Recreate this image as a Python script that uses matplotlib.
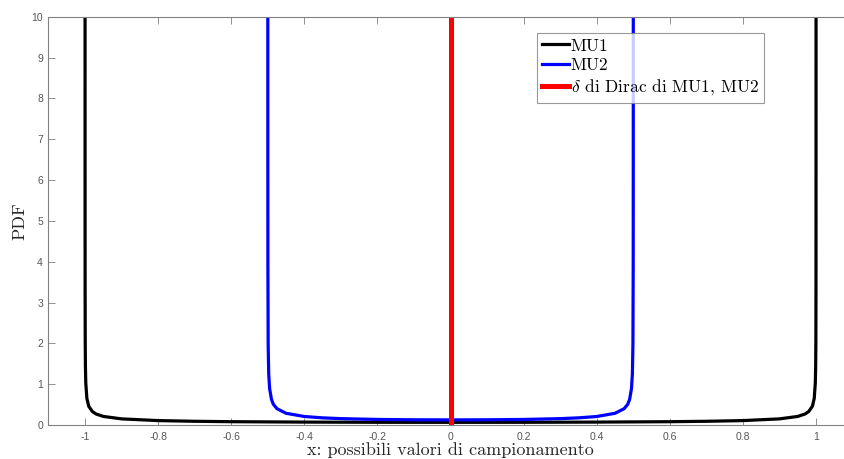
import matplotlib
matplotlib.use("Agg")
import matplotlib.pyplot as plt

plt.rcParams['mathtext.fontset'] = 'cm'

# MU1 PDF values
x_mu1 = [-1.0, -0.99998, -0.99995, -0.9999, -0.9998, -0.9995, -0.999, -0.998, -0.995,
         -0.99, -0.98, -0.97, -0.95, -0.9, -0.8, -0.7, -0.6, -0.4, -0.2, 0.0,
         0.2, 0.4, 0.6, 0.7, 0.8, 0.9, 0.95, 0.97, 0.98, 0.99, 0.995, 0.998,
         0.999, 0.9995, 0.9998, 0.9999, 0.99995, 0.99998, 1.0]
y_mu1 = [12.0, 10.3, 6.5, 4.6, 3.25, 2.06, 1.45, 1.03, 0.65,
         0.46, 0.33, 0.27, 0.21, 0.15, 0.108, 0.091, 0.081, 0.071, 0.066, 0.065,
         0.066, 0.071, 0.081, 0.091, 0.108, 0.15, 0.21, 0.27, 0.33, 0.46, 0.65, 1.03,
         1.45, 2.06, 3.25, 4.6, 6.5, 10.3, 12.0]

# MU2 PDF values
x_mu2 = [-0.5, -0.49999, -0.49995, -0.4999, -0.49975, -0.499, -0.4975, -0.495, -0.49,
         -0.485, -0.475, -0.45, -0.4, -0.35, -0.3, -0.2, -0.1, 0.0,
         0.1, 0.2, 0.3, 0.35, 0.4, 0.45, 0.475, 0.485, 0.49, 0.495, 0.4975,
         0.499, 0.49975, 0.4999, 0.49995, 0.49999, 0.5]
y_mu2 = [12.0, 11.0, 8.84, 6.25, 3.95, 1.98, 1.25, 0.89, 0.63,
         0.51, 0.40, 0.287, 0.208, 0.175, 0.156, 0.136, 0.128, 0.125,
         0.128, 0.136, 0.156, 0.175, 0.208, 0.287, 0.40, 0.51, 0.63, 0.89, 1.25,
         1.98, 3.95, 6.25, 8.84, 11.0, 12.0]

# Dirac delta marker
x_delta = [0.0, 0.0]
y_delta = [0.0, 10.0]

x_ticks = [-1, -0.8, -0.6, -0.4, -0.2, 0, 0.2, 0.4, 0.6, 0.8, 1]
x_ticklabels = ['-1', '-0.8', '-0.6', '-0.4', '-0.2', '0', '0.2', '0.4', '0.6', '0.8', '1']
y_ticks = list(range(0, 11))

W, H = 845, 459
fig = plt.figure(figsize=(W / 100, H / 100), dpi=100)
left, right, top, bottom = 48.5, 852.6, 16.7, 425.0
ax = fig.add_axes([left / W, 1 - bottom / H, (right - left) / W, (bottom - top) / H])

ax.plot(x_mu1, y_mu1, color='black', lw=2.3, label='MU1', solid_joinstyle='round')
ax.plot(x_mu2, y_mu2, color='#0000ff', lw=2.3, label='MU2', solid_joinstyle='round')
ax.plot(x_delta, y_delta, color='#ff0000', lw=3.6, label=r'$\delta$ di Dirac di MU1, MU2')

ax.set_xlim(-1.1, 1.1)
ax.set_ylim(0, 10)
ax.set_xticks(x_ticks)
ax.set_xticklabels(x_ticklabels)
ax.set_yticks(y_ticks)

spine_col = '#808080'
for s in ax.spines.values():
    s.set_color(spine_col)
    s.set_linewidth(0.8)
ax.spines['right'].set_visible(False)
ax.tick_params(direction='in', length=5, width=0.6, colors=spine_col,
               labelcolor='#555555', labelsize=7.5, top=True, right=True)
for lab in ax.get_xticklabels() + ax.get_yticklabels():
    lab.set_fontfamily('Liberation Sans')
ax.tick_params(axis='x', pad=5)
ax.tick_params(axis='y', pad=4)

ax.set_xlabel('x: possibili valori di campionamento', fontfamily='cmr10',
              fontsize=13, color='#262626', labelpad=0)
ax.set_ylabel('PDF', fontfamily='cmr10', fontsize=13, color='#262626', labelpad=3)

leg = fig.legend(loc='upper left', bbox_to_anchor=(537 / W, 1 - 33 / H),
                 prop={'family': 'cmr10', 'size': 12.5}, frameon=True, fancybox=False,
                 handlelength=1.55, handletextpad=0.1, borderpad=0.3, labelspacing=0.25,
                 borderaxespad=0)
leg.get_frame().set_edgecolor('#808080')
leg.get_frame().set_linewidth(0.8)

fig.savefig('out.png', dpi=100)
